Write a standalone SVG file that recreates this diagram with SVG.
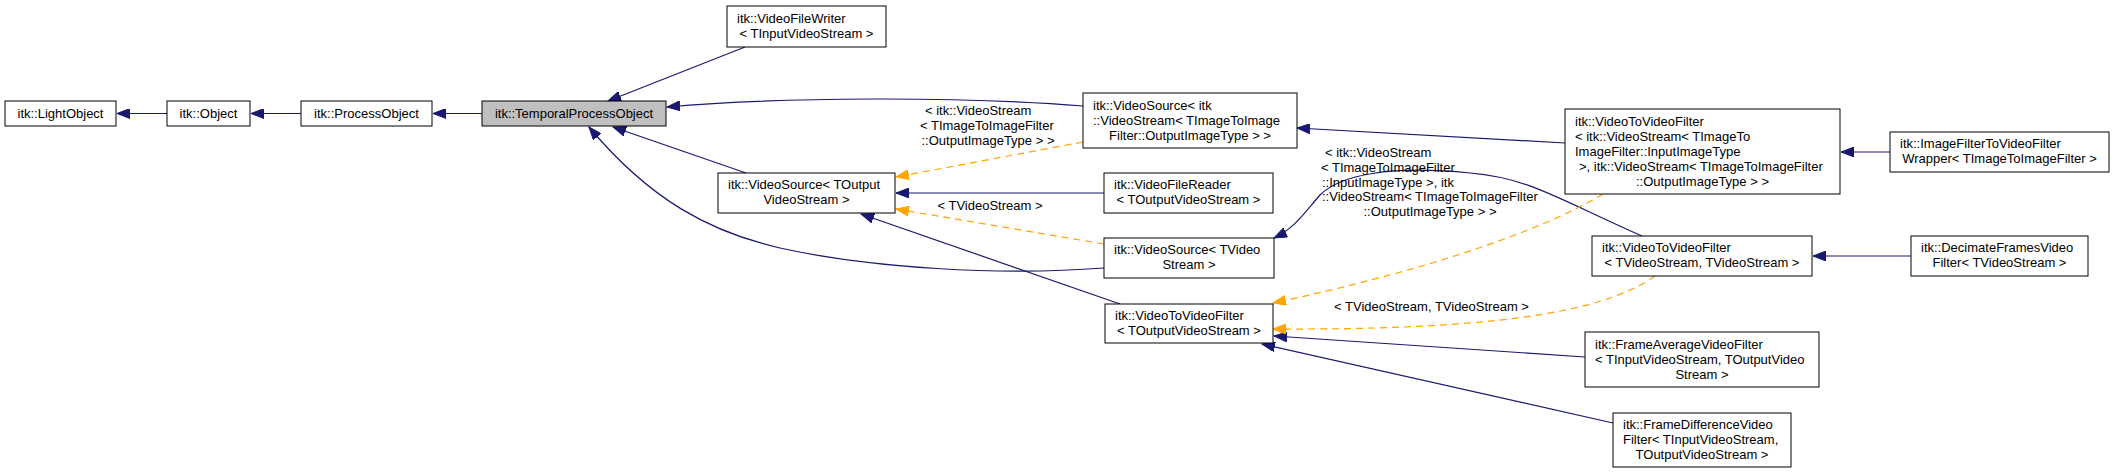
<svg xmlns="http://www.w3.org/2000/svg" width="2115" height="473" viewBox="0 0 2115 473">
<style>
text{font-family:"Liberation Sans",Arial,Helvetica,sans-serif;font-size:13px;fill:#000}
.n rect{fill:#fff;stroke:#000;stroke-width:1}
.n rect.g{fill:#bfbfbf}
.c{text-anchor:middle}
.e{fill:none;stroke:#191970;stroke-width:1.2;marker-end:url(#ab)}
.t{fill:none;stroke:#ffa500;stroke-width:1.2;stroke-dasharray:7,5;marker-end:url(#ao)}
</style>
<defs>
<marker id="ab" markerWidth="14" markerHeight="10" refX="13" refY="5" orient="auto" markerUnits="userSpaceOnUse"><path d="M0,0 L13,5 L0,10 z" fill="#191970" stroke="#191970" stroke-width="1"/></marker>
<marker id="ao" markerWidth="14" markerHeight="10" refX="13" refY="5" orient="auto" markerUnits="userSpaceOnUse"><path d="M0,0 L13,5 L0,10 z" fill="#ffa500" stroke="#ffa500" stroke-width="1"/></marker>
</defs>
<rect width="2115" height="473" fill="#fff"/>
<g id="connectors">
<path class="e" d="M167,113.5 L117,113.5"/>
<path class="e" d="M301,113.5 L251,113.5"/>
<path class="e" d="M482,113.5 L433,113.5"/>
<path class="e" d="M745,47 L608,101"/>
<path class="e" d="M1083,106 C960,96 780,97 667,107"/>
<path class="e" d="M746,173 L613,127"/>
<path class="e" d="M1104,268 C1000,276 870,268 780,248 C710,232 650,200 589,127"/>
<path class="e" d="M1104,193 L896,193"/>
<path class="e" d="M1120,304 L861,214"/>
<path class="e" d="M1565,143 L1297,128"/>
<path class="e" d="M1890,152 L1841,152"/>
<path class="e" d="M1642,236 C1560,200 1530,178 1470,173 C1390,165 1340,175 1320,195 C1305,212 1295,228 1274,238"/>
<path class="e" d="M1911,256 L1813,256"/>
<path class="e" d="M1585,357 L1274,336"/>
<path class="e" d="M1613,423 L1262,344"/>
<path class="t" d="M1083,142 L896,177"/>
<path class="t" d="M1104,244 L896,209"/>
<path class="t" d="M1603,194 C1540,232 1420,272 1273,303"/>
<path class="t" d="M1655,276 C1600,315 1480,330 1273,329"/>
<text x="925" y="115">&lt; itk::VideoStream</text>
<text x="920" y="130">&lt; TImageToImageFilter</text>
<text x="988" y="145" class="c">::OutputImageType &gt; &gt;</text>
<text x="990" y="209.5" class="c">&lt; TVideoStream &gt;</text>
<text x="1325" y="157">&lt; itk::VideoStream</text>
<text x="1321" y="171.5">&lt; TImageToImageFilter</text>
<text x="1322" y="187">::InputImageType &gt;, itk</text>
<text x="1322" y="201">::VideoStream&lt; TImageToImageFilter</text>
<text x="1430" y="216" class="c">::OutputImageType &gt; &gt;</text>
<text x="1431.5" y="311" class="c">&lt; TVideoStream, TVideoStream &gt;</text>
</g>
<g id="n_lightobject" class="n"><rect x="5" y="101" width="111" height="25"/><text x="60.5" y="118" class="c">itk::LightObject</text></g>
<g id="n_object" class="n"><rect x="167" y="101" width="83" height="25"/><text x="208.5" y="118" class="c">itk::Object</text></g>
<g id="n_processobject" class="n"><rect x="301" y="101" width="131" height="25"/><text x="366.5" y="118" class="c">itk::ProcessObject</text></g>
<g id="n_temporalprocessobject" class="n"><rect class="g" x="482" y="101" width="184" height="25"/><text x="574" y="118" class="c">itk::TemporalProcessObject</text></g>
<g id="n_videofilewriter" class="n"><rect x="727" y="6" width="159" height="41"/><text x="737" y="22.5">itk::VideoFileWriter</text><text x="806.5" y="37.5" class="c">&lt; TInputVideoStream &gt;</text></g>
<g id="n_videosource_itk" class="n"><rect x="1083" y="93" width="214" height="55"/><text x="1093" y="110">itk::VideoSource&lt; itk</text><text x="1093" y="125">::VideoStream&lt; TImageToImage</text><text x="1190" y="140" class="c">Filter::OutputImageType &gt; &gt;</text></g>
<g id="n_videosource_toutput" class="n"><rect x="718" y="173" width="177" height="40"/><text x="728" y="189">itk::VideoSource&lt; TOutput</text><text x="806.5" y="204" class="c">VideoStream &gt;</text></g>
<g id="n_videofilereader" class="n"><rect x="1104" y="173" width="169" height="40"/><text x="1114" y="189">itk::VideoFileReader</text><text x="1188.5" y="204" class="c">&lt; TOutputVideoStream &gt;</text></g>
<g id="n_videosource_tvideo" class="n"><rect x="1104" y="238" width="170" height="40"/><text x="1114" y="254">itk::VideoSource&lt; TVideo</text><text x="1189" y="269" class="c">Stream &gt;</text></g>
<g id="n_v2vf_toutput" class="n"><rect x="1105" y="304" width="168" height="39"/><text x="1115" y="320">itk::VideoToVideoFilter</text><text x="1189" y="335" class="c">&lt; TOutputVideoStream &gt;</text></g>
<g id="n_v2vf_itk" class="n"><rect x="1565" y="109" width="275" height="85"/><text x="1575" y="125.5">itk::VideoToVideoFilter</text><text x="1575" y="140.5">&lt; itk::VideoStream&lt; TImageTo</text><text x="1575" y="155.5">ImageFilter::InputImageType</text><text x="1579" y="170.5">&gt;, itk::VideoStream&lt; TImageToImageFilter</text><text x="1702.5" y="185.5" class="c">::OutputImageType &gt; &gt;</text></g>
<g id="n_imagefiltertovideofilterwrapper" class="n"><rect x="1890" y="132" width="219" height="40"/><text x="1900" y="148">itk::ImageFilterToVideoFilter</text><text x="1999.5" y="163" class="c">Wrapper&lt; TImageToImageFilter &gt;</text></g>
<g id="n_v2vf_tvs" class="n"><rect x="1592" y="236" width="220" height="40"/><text x="1602" y="252">itk::VideoToVideoFilter</text><text x="1702" y="267" class="c">&lt; TVideoStream, TVideoStream &gt;</text></g>
<g id="n_decimateframes" class="n"><rect x="1911" y="236" width="177" height="40"/><text x="1921" y="252">itk::DecimateFramesVideo</text><text x="1999.5" y="267" class="c">Filter&lt; TVideoStream &gt;</text></g>
<g id="n_frameaverage" class="n"><rect x="1585" y="332" width="234" height="55"/><text x="1595" y="348.5">itk::FrameAverageVideoFilter</text><text x="1595" y="363.5">&lt; TInputVideoStream, TOutputVideo</text><text x="1702" y="378.5" class="c">Stream &gt;</text></g>
<g id="n_framedifference" class="n"><rect x="1613" y="413" width="178" height="54"/><text x="1623" y="429">itk::FrameDifferenceVideo</text><text x="1623" y="444">Filter&lt; TInputVideoStream,</text><text x="1702" y="459" class="c">TOutputVideoStream &gt;</text></g>
</svg>
